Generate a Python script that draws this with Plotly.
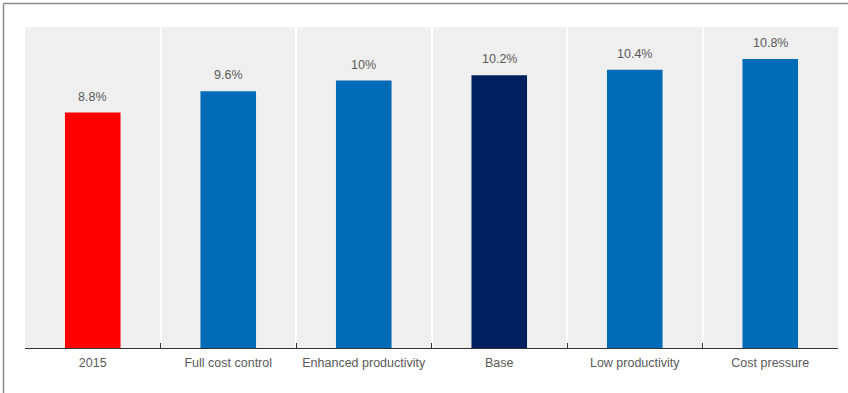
import plotly.graph_objects as go

categories = ["2015", "Full cost control", "Enhanced productivity", "Base", "Low productivity", "Cost pressure"]
values = [8.8, 9.6, 10.0, 10.2, 10.4, 10.8]
labels = ["8.8%", "9.6%", "10%", "10.2%", "10.4%", "10.8%"]
colors = ["#FF0000", "#006BB6", "#006BB6", "#002060", "#006BB6", "#006BB6"]

W, H = 848, 393
ml, mr, mt, mb = 25, 10, 27, 45
pw, ph = W - ml - mr, H - mt - mb

fig = go.Figure()
fig.add_trace(go.Bar(
    x=categories, y=values, marker=dict(color=colors, line=dict(width=0)),
    width=0.41, hoverinfo="skip",
))

for i, (v, t) in enumerate(zip(values, labels)):
    fig.add_annotation(x=i, y=v, text=t, showarrow=False, yanchor="bottom",
                       yshift=7, font=dict(family="Liberation Sans, Arial", size=12.5, color="#595959"))

def px2x(p):
    return (p - ml) / pw

def py2y(p):
    return (H - mb - p) / ph

# outer frame lines (top and left)
fig.add_shape(type="line", xref="paper", yref="paper",
              x0=px2x(3.5), x1=px2x(W), y0=py2y(3.5), y1=py2y(3.5),
              line=dict(color="#8a8a8a", width=1.5))
fig.add_shape(type="line", xref="paper", yref="paper",
              x0=px2x(3.5), x1=px2x(3.5), y0=py2y(3.5), y1=py2y(H),
              line=dict(color="#8a8a8a", width=1.5))

fig.update_layout(
    width=W, height=H,
    margin=dict(l=ml, r=mr, t=mt, b=mb),
    paper_bgcolor="white", plot_bgcolor="#EFEFEF",
    showlegend=False,
    font=dict(family="Liberation Sans, Arial", size=12, color="#595959"),
    xaxis=dict(
        type="category", tickson="boundaries", showgrid=True, gridcolor="white", gridwidth=1.5,
        ticks="inside", ticklen=5, tickcolor="#333333", tickwidth=1,
        showline=True, linecolor="#333333", linewidth=1,
        tickfont=dict(family="Liberation Sans, Arial", size=12.5, color="#595959"),
        ticklabelstandoff=3,
        range=[-0.5, 5.5], fixedrange=True,
    ),
    yaxis=dict(range=[0, 12], showgrid=False, showticklabels=False, zeroline=False,
               showline=False, ticks="", fixedrange=True),
)

fig.write_html("out.html")
